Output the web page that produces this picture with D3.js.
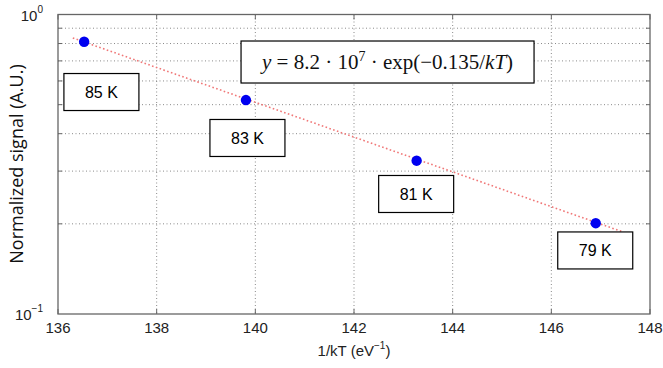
<!DOCTYPE html>
<html><head><meta charset="utf-8">
<script src="https://cdn.jsdelivr.net/npm/d3@7"></script>
<style>body{margin:0;background:#fff}svg{display:block}</style>
</head><body>
<svg id="c" width="663" height="368"></svg>
<script>
// data
const temps = ["85 K", "83 K", "81 K", "79 K"];
const invKT = [136.53, 139.81, 143.27, 146.90];
const signal = [0.811, 0.518, 0.325, 0.201];
const fitX = [136.30, 147.45];
const fitY = [0.835, 0.188];
const labelX = [136.88, 139.84, 143.26, 146.89];
const labelY = [0.551, 0.387, 0.2516, 0.163];
const eqX = 142.68, eqY = 0.694;
const xTicks = [136, 138, 140, 142, 144, 146, 148];
const yMinor = [0.2, 0.3, 0.4, 0.5, 0.6, 0.7, 0.8, 0.9];

const svg = d3.select("#c");
const L = 58, R = 650, T = 14.5, B = 314;
const x = d3.scaleLinear().domain([136, 148]).range([L, R]);
const y = d3.scaleLog().domain([0.1, 1]).range([B, T]);

// grid
const g = svg.append("g");
g.selectAll(".vg").data(xTicks.slice(1, -1)).join("line")
  .attr("x1", d => x(d)).attr("x2", d => x(d)).attr("y1", T).attr("y2", B)
  .attr("stroke", "#8a8a8a").attr("stroke-width", 1).attr("stroke-dasharray", "1,2.5");
g.selectAll(".hg").data(yMinor).join("line")
  .attr("x1", L).attr("x2", R).attr("y1", d => y(d)).attr("y2", d => y(d))
  .attr("stroke", "#8a8a8a").attr("stroke-width", 1).attr("stroke-dasharray", "1,2.5");

// ticks inward
const tk = svg.append("g").attr("stroke", "#666");
xTicks.forEach(d => {
  tk.append("line").attr("x1", x(d)).attr("x2", x(d)).attr("y1", B).attr("y2", B - 5);
  tk.append("line").attr("x1", x(d)).attr("x2", x(d)).attr("y1", T).attr("y2", T + 5);
});
yMinor.forEach(d => {
  tk.append("line").attr("x1", L).attr("x2", L + 4).attr("y1", y(d)).attr("y2", y(d));
  tk.append("line").attr("x1", R).attr("x2", R - 4).attr("y1", y(d)).attr("y2", y(d));
});

// frame
svg.append("rect").attr("x", L).attr("y", T).attr("width", R - L).attr("height", B - T)
  .attr("fill", "none").attr("stroke", "#666").attr("stroke-width", 1.3);

// x tick labels
svg.append("g").selectAll("text").data(xTicks).join("text")
  .attr("x", d => x(d)).attr("y", B + 19).attr("text-anchor", "middle")
  .attr("font-family", "Liberation Sans, Arial, sans-serif").attr("font-size", 15)
  .attr("fill", "#222").text(d => d);

// y tick labels
[[1, "0"], [0.1, "\u22121"]].forEach(([v, e]) => {
  const t = svg.append("text").attr("x", L - 15).attr("y", y(v) + 6)
    .attr("text-anchor", "end").attr("font-family", "Liberation Sans, Arial, sans-serif")
    .attr("font-size", 15).attr("fill", "#222");
  t.append("tspan").text("10");
  t.append("tspan").attr("dy", -8).attr("font-size", 10).text(e);
});

// axis labels
const xl = svg.append("text").attr("x", 354).attr("y", 356).attr("text-anchor", "middle")
  .attr("font-family", "Liberation Sans, Arial, sans-serif").attr("font-size", 15).attr("fill", "#222");
xl.append("tspan").text("1/kT (eV");
xl.append("tspan").attr("dy", -7).attr("font-size", 10).text("\u22121");
xl.append("tspan").attr("dy", 7).text(")");

svg.append("text").attr("transform", "translate(23,164) rotate(-90)").attr("text-anchor", "middle")
  .attr("font-family", "Open Sans, Noto Sans, sans-serif").attr("font-size", 18).attr("fill", "#111")
  .text("Normalized signal (A.U.)");

// fit line
const line = d3.line().x(d => x(d[0])).y(d => y(d[1]));
svg.append("path").datum(fitX.map((v, i) => [v, fitY[i]])).attr("d", line)
  .attr("fill", "none").attr("stroke", "#f07878").attr("stroke-width", 1.6)
  .attr("stroke-dasharray", "1.6,2.4");

// points
svg.append("g").selectAll("circle").data(invKT).join("circle")
  .attr("cx", d => x(d)).attr("cy", (d, i) => y(signal[i])).attr("r", 5.2)
  .attr("fill", "#0000f0");

// label boxes
const lb = svg.append("g").selectAll("g").data(temps).join("g")
  .attr("transform", (d, i) => `translate(${x(labelX[i])},${y(labelY[i])})`);
lb.append("rect").attr("x", -37.5).attr("y", -18.5).attr("width", 75).attr("height", 37)
  .attr("fill", "#fff").attr("stroke", "#000").attr("stroke-width", 1.2);
lb.append("text").attr("text-anchor", "middle").attr("y", 6)
  .attr("font-family", "Liberation Sans, Arial, sans-serif").attr("font-size", 16).attr("fill", "#000")
  .text(d => d);

// equation box
const eg = svg.append("g").attr("transform", `translate(${x(eqX)},${y(eqY)})`);
eg.append("rect").attr("x", -146.5).attr("y", -21).attr("width", 293).attr("height", 42)
  .attr("fill", "#fff").attr("stroke", "#000").attr("stroke-width", 1.2);
const et = eg.append("text").attr("text-anchor", "middle").attr("y", 7)
  .attr("font-family", "Liberation Serif, DejaVu Serif, serif").attr("font-size", 21).attr("fill", "#111");
et.append("tspan").attr("font-style", "italic").text("y");
et.append("tspan").text(" = 8.2 \u00b7 10");
et.append("tspan").attr("dy", -8).attr("font-size", 14).text("7");
et.append("tspan").attr("dy", 8).text(" \u00b7 exp(\u22120.135/");
et.append("tspan").attr("font-style", "italic").text("kT");
et.append("tspan").text(")");
</script>
</body></html>
